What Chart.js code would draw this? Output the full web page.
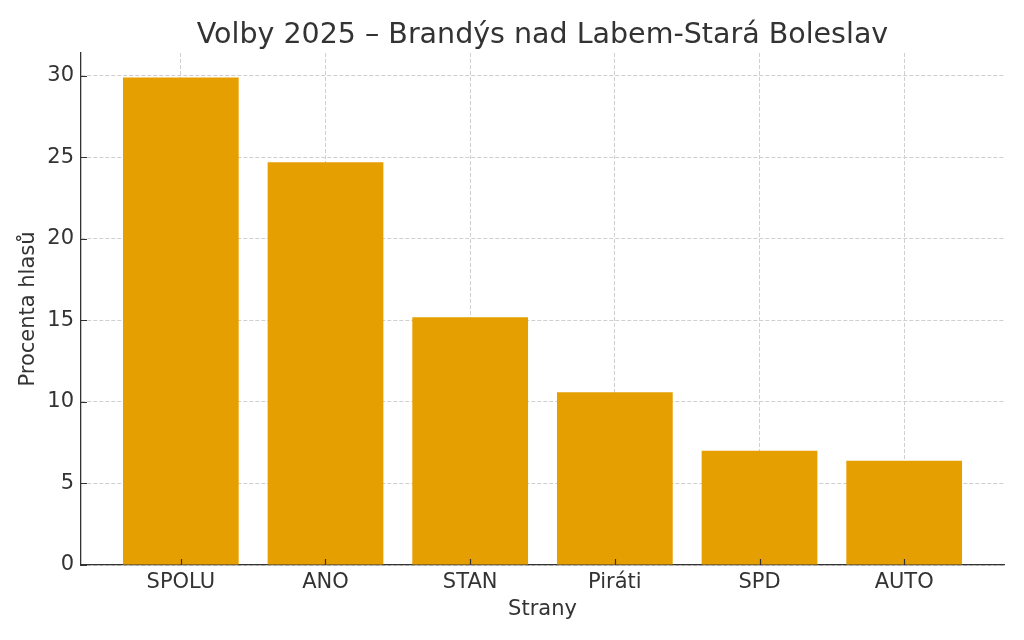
<!DOCTYPE html>
<html>
<head>
<meta charset="utf-8">
<script src="https://cdn.jsdelivr.net/npm/chart.js@4"></script>
<style>
  html, body { margin: 0; padding: 0; background: #fff; }
  #wrap { width: 1024px; height: 640px; }
</style>
</head>
<body>
<div id="wrap"><canvas id="chart" width="1024" height="640"></canvas></div>
<script>
// data
const parties = ['SPOLU', 'ANO', 'STAN', 'Piráti', 'SPD', 'AUTO'];
const percents = [29.9, 24.7, 15.2, 10.6, 7.0, 6.4];
const yTicks = [0, 5, 10, 15, 20, 25, 30];

const barColor = '#E69F00';
const gridColor = '#cfcfcf';
const axisColor = '#333333';
const textColor = '#333333';

// short inward tick marks, like the original
const innerTicks = {
  id: 'innerTicks',
  afterDraw(chart) {
    const ctx = chart.ctx;
    const xs = chart.scales.x, ys = chart.scales.y;
    ctx.save();
    ctx.strokeStyle = axisColor;
    ctx.lineWidth = 1.2;
    ctx.beginPath();
    yTicks.forEach(v => {
      const py = Math.round(ys.getPixelForValue(v)) + 0.5;
      ctx.moveTo(xs.left, py);
      ctx.lineTo(xs.left + 6, py);
    });
    parties.forEach((p, i) => {
      const px = Math.round(xs.getPixelForValue(i)) + 0.5;
      ctx.moveTo(px, ys.bottom);
      ctx.lineTo(px, ys.bottom - 6);
    });
    ctx.stroke();
    ctx.restore();
  }
};

const ctx = document.getElementById('chart').getContext('2d');
new Chart(ctx, {
  type: 'bar',
  data: {
    datasets: [{
      data: percents.map((v, i) => ({ x: i, y: v })),
      backgroundColor: barColor,
      borderWidth: 0,
      barPercentage: 0.8,
      categoryPercentage: 1
    }]
  },
  options: {
    responsive: false,
    animation: false,
    layout: { padding: { left: 0, right: 20, top: 0, bottom: 0 } },
    plugins: {
      legend: { display: false },
      tooltip: { enabled: false },
      title: {
        display: true,
        fullSize: false,
        text: 'Volby 2025 – Brandýs nad Labem-Stará Boleslav',
        color: textColor,
        font: { family: 'DejaVu Sans', size: 28.5, weight: 'normal' },
        padding: { top: 18, bottom: 0.8 }
      }
    },
    scales: {
      x: {
        type: 'linear',
        min: -0.69,
        max: 5.69,
        offset: false,
        z: 1,
        afterBuildTicks: s => { s.ticks = parties.map((p, i) => ({ value: i })); },
        afterFit: s => { s.height = 75; },
        ticks: {
          callback: v => parties[v],
          color: textColor,
          font: { family: 'DejaVu Sans', size: 21 },
          padding: 5,
          maxRotation: 0,
          autoSkip: false
        },
        grid: {
          offset: false,
          color: gridColor,
          lineWidth: 1,
          drawTicks: false
        },
        border: { display: true, color: axisColor, width: 1.3, dash: [4, 2] },
        title: {
          display: true,
          text: 'Strany',
          color: textColor,
          font: { family: 'DejaVu Sans', size: 21 },
          padding: { top: 0, bottom: 18 }
        }
      },
      y: {
        min: 0,
        max: 31.4,
        z: 1,
        afterBuildTicks: s => { s.ticks = yTicks.map(v => ({ value: v })); },
        afterFit: s => { s.width = 81; },
        ticks: {
          color: textColor,
          font: { family: 'DejaVu Sans', size: 21 },
          padding: 7
        },
        grid: {
          color: gridColor,
          lineWidth: 1,
          drawTicks: false
        },
        border: { display: true, color: axisColor, width: 1.3, dash: [4, 2] },
        title: {
          display: true,
          text: 'Procenta hlasů',
          color: textColor,
          font: { family: 'DejaVu Sans', size: 21 },
          padding: { top: 16, bottom: 0 }
        }
      }
    }
  },
  plugins: [innerTicks]
});
</script>
</body>
</html>
